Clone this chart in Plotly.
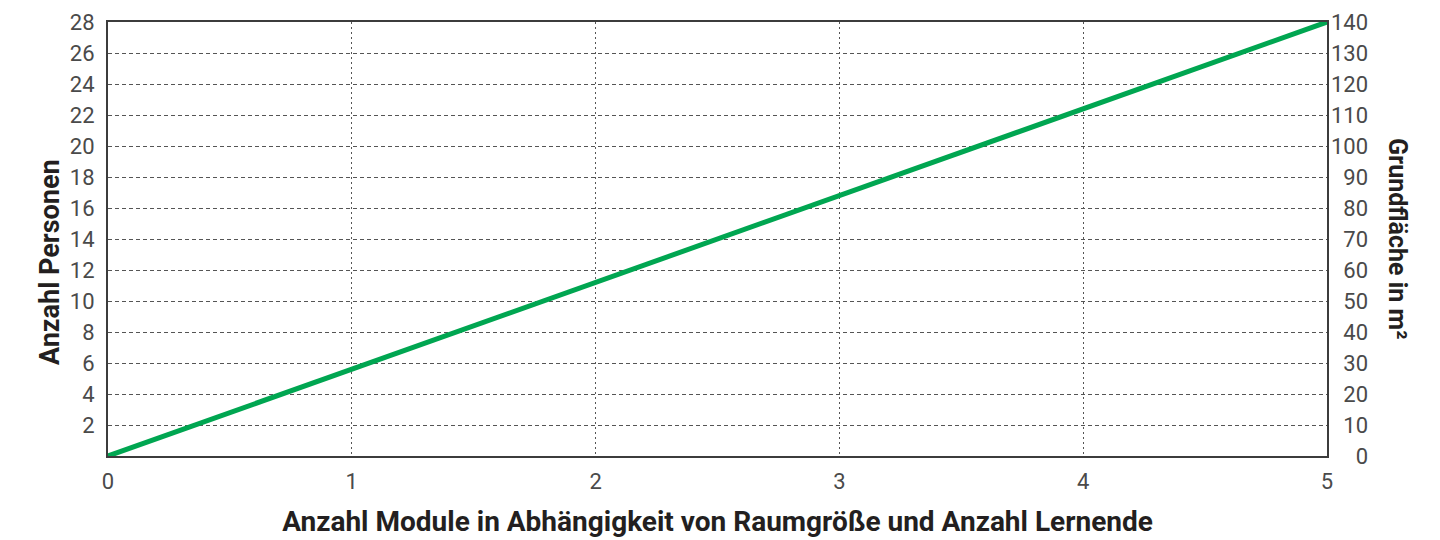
import plotly.graph_objects as go

# Data
module = [0, 5]
personen = [0, 28]
flaeche = [0, 140]

x_ticks = [0, 1, 2, 3, 4, 5]
y_ticks = [2, 4, 6, 8, 10, 12, 14, 16, 18, 20, 22, 24, 26, 28]
y2_ticks = [0, 10, 20, 30, 40, 50, 60, 70, 80, 90, 100, 110, 120, 130, 140]

FONT = "Roboto, sans-serif"
BOLD = "Roboto, sans-serif"
TICK_COLOR = "#4a4a4a"
TITLE_COLOR = "#231f20"
FRAME = "#3c3c3c"
GREEN = "#00a651"
TS = 22

fig = go.Figure()

fig.add_trace(go.Scatter(
    x=module, y=personen, mode="lines",
    line=dict(color=GREEN, width=5),
    showlegend=False, hoverinfo="skip", cliponaxis=False,
))
# invisible trace on secondary axis to anchor it
fig.add_trace(go.Scatter(
    x=module, y=flaeche, mode="lines", yaxis="y2",
    line=dict(color="rgba(0,0,0,0)", width=0),
    showlegend=False, hoverinfo="skip",
))

# pad right-axis labels with figure spaces so they appear right-aligned
maxlen = max(len(str(v)) for v in y2_ticks)
y2_text = ["\u2007" * (maxlen - len(str(v))) + str(v) for v in y2_ticks]

fig.update_layout(
    width=1440, height=540,
    margin=dict(l=100, r=121, t=14, b=92),
    paper_bgcolor="white", plot_bgcolor="white",
    font=dict(family=FONT, color=TICK_COLOR, size=TS),
    xaxis=dict(
        range=[0, 5], tickvals=x_ticks, ticktext=[str(v) for v in x_ticks],
        showgrid=True, gridcolor="#555555", gridwidth=1, griddash="2px,3px",
        showline=True, linecolor=FRAME, linewidth=2, mirror=True,
        ticks="", ticklabelstandoff=5, zeroline=False, automargin=False,
        tickfont=dict(family=FONT, size=TS, color=TICK_COLOR),
        title=dict(text="Anzahl Module in Abhängigkeit von Raumgröße und Anzahl Lernende",
                   font=dict(family=BOLD, size=28, color=TITLE_COLOR, weight="bold"),
                   standoff=18),
    ),
    yaxis=dict(
        range=[0, 28], tickvals=y_ticks, ticktext=[str(v) for v in y_ticks],
        showgrid=True, gridcolor="#555555", gridwidth=1, griddash="4px,3px",
        showline=True, linecolor=FRAME, linewidth=2, mirror=True,
        ticks="", ticklabelstandoff=7, zeroline=False, automargin=False,
        tickfont=dict(family=FONT, size=TS, color=TICK_COLOR),
    ),
    yaxis2=dict(
        range=[0, 140], tickvals=y2_ticks, ticktext=y2_text,
        overlaying="y", side="right", showgrid=False, zeroline=False,
        showline=False, ticks="", ticklabelstandoff=3, automargin=False,
        tickfont=dict(family=FONT, size=TS, color=TICK_COLOR),
    ),
    annotations=[
        dict(
            text="Anzahl Personen", xref="paper", yref="paper",
            x=0.0, y=0.5, xanchor="center", yanchor="middle",
            xshift=-58, yshift=-23, textangle=-90, showarrow=False,
            font=dict(family=BOLD, size=27, color=TITLE_COLOR, weight="bold"),
        ),
        dict(
            text="Grundfläche in m²", xref="paper", yref="paper",
            x=1.0, y=0.5, xanchor="center", yanchor="middle",
            xshift=71, textangle=90, showarrow=False,
            font=dict(family=BOLD, size=25, color=TITLE_COLOR, weight="bold"),
        ),
    ],
)

fig.write_html("out.html")
